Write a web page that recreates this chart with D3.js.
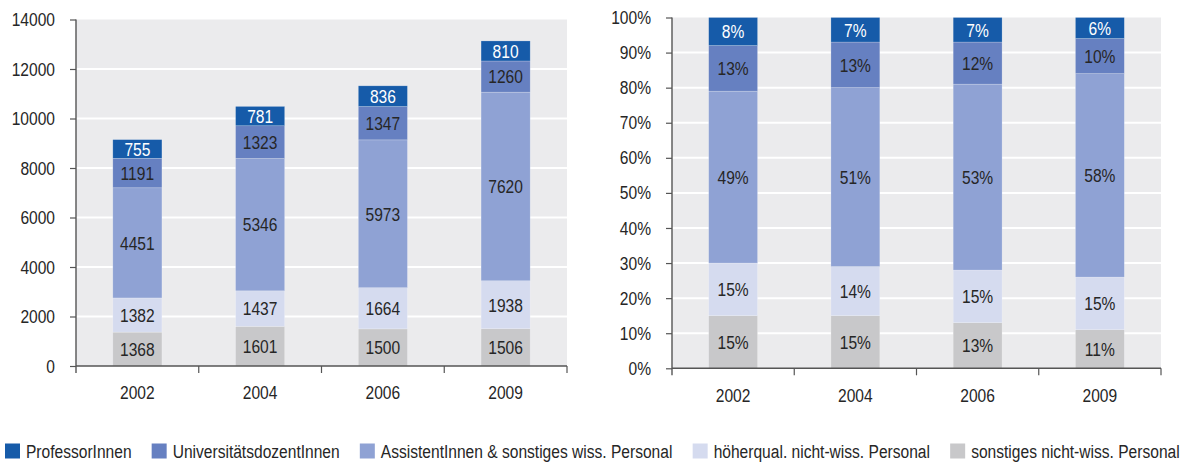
<!DOCTYPE html>
<html>
<head>
<meta charset="utf-8">
<script src="https://cdn.jsdelivr.net/npm/d3@7"></script>
<style>
  html, body { margin: 0; padding: 0; background: #fff; }
  svg { display: block; }
  text { font-family: "Liberation Sans", Arial, sans-serif; }
</style>
</head>
<body>
<svg id="chart" width="1186" height="462"></svg>
<script>
// Personnel at universities by staff category
const years = ["2002", "2004", "2006", "2009"];

const seriesNames = [
  "sonstiges nicht-wiss. Personal",
  "höherqual. nicht-wiss. Personal",
  "AssistentInnen & sonstiges wiss. Personal",
  "UniversitätsdozentInnen",
  "ProfessorInnen"
];

// headcount per category (bottom to top), one value per year
const sonstigesNichtWiss = [1368, 1601, 1500, 1506];
const hoeherqualNichtWiss = [1382, 1437, 1664, 1938];
const assistentInnen = [4451, 5346, 5973, 7620];
const dozentInnen = [1191, 1323, 1347, 1260];
const professorInnen = [755, 781, 836, 810];

// share of each category in percent
const sonstigesShare = [15, 15, 13, 11];
const hoeherqualShare = [15, 14, 15, 15];
const assistentShare = [49, 51, 53, 58];
const dozentShare = [13, 13, 12, 10];
const professorShare = [8, 7, 7, 6];

const countTicks = [0, 2000, 4000, 6000, 8000, 10000, 12000, 14000];
const shareTicks = [0, 10, 20, 30, 40, 50, 60, 70, 80, 90, 100];

const colors = ["#c8c8ca", "#d5dbef", "#8fa2d4", "#6680c1", "#165ba9"];
const labelColors = ["#262626", "#262626", "#262626", "#262626", "#ffffff"];

const svg = d3.select("#chart");
const FONT = 19;
const SX = 0.82; // horizontal squeeze for a condensed look

// squeeze text horizontally while keeping its anchor point in place
function condense(sel) {
  sel.each(function () {
    const t = d3.select(this);
    const x = +t.attr("x") || 0;
    t.attr("x", x / SX).attr("transform", `scale(${SX},1)`);
  });
}

function drawPanel(opts) {
  const { left, right, top, bottom, max, ticks, tickFmt, series } = opts;
  const g = svg.append("g");

  const x = d3.scaleBand().domain(years).range([left, right]).padding(0);
  const y = d3.scaleLinear().domain([0, max]).range([bottom, top]);

  // plot background
  g.append("rect")
    .attr("x", left).attr("y", y(max))
    .attr("width", right - left).attr("height", y(0) - y(max))
    .attr("fill", "#ebebed");

  // horizontal gridlines
  g.append("g").selectAll("line")
    .data(ticks.filter(t => t > 0 && t < max))
    .join("line")
    .attr("x1", left).attr("x2", right)
    .attr("y1", d => y(d)).attr("y2", d => y(d))
    .attr("stroke", "#ffffff").attr("stroke-width", 2);

  // stacked bars
  const rows = years.map((yr, i) => {
    const r = { year: yr };
    series.forEach((s, k) => { r[k] = s[i]; });
    return r;
  });
  const stack = d3.stack().keys(series.map((_, k) => k))(rows);
  const bw = x.bandwidth() * 0.4;

  const layers = g.append("g").selectAll("g")
    .data(stack)
    .join("g")
    .attr("fill", (d, k) => colors[k]);

  layers.selectAll("rect")
    .data(d => d)
    .join("rect")
    .attr("x", d => x(d.data.year) + (x.bandwidth() - bw) / 2)
    .attr("y", d => y(d[1]))
    .attr("width", bw)
    .attr("height", d => y(d[0]) - y(d[1]))
    .attr("stroke", "rgba(255,255,255,0.35)")
    .attr("stroke-width", 0.6);

  layers.selectAll("text")
    .data((d, k) => d.map(p => ({ p, k })))
    .join("text")
    .attr("x", d => x(d.p.data.year) + x.bandwidth() / 2)
    .attr("y", d => (y(d.p[0]) + y(d.p[1])) / 2)
    .attr("dy", "0.36em")
    .attr("text-anchor", "middle")
    .attr("font-size", FONT)
    .attr("fill", d => labelColors[d.k])
    .text(d => tickFmt(d.p[1] - d.p[0]))
    .call(condense);

  // y axis
  const yAxis = d3.axisLeft(y).tickValues(ticks).tickSize(6).tickPadding(15).tickFormat(tickFmt);
  const ya = g.append("g").attr("transform", `translate(${left},0)`).call(yAxis);
  ya.select(".domain").remove();
  ya.selectAll(".tick line").attr("stroke", "#555").attr("stroke-width", 1.2);
  ya.selectAll(".tick text").attr("font-size", FONT).attr("fill", "#262626")
    .attr("font-family", null).call(condense);

  // x axis with category labels centred in each band
  const xAxis = d3.axisBottom(x).tickSize(0).tickPadding(20);
  const xa = g.append("g").attr("transform", `translate(0,${bottom})`).call(xAxis);
  xa.select(".domain").remove();
  xa.selectAll(".tick text").attr("font-size", FONT).attr("fill", "#262626")
    .attr("font-family", null).call(condense);

  // axis lines and band separators
  g.append("line")
    .attr("x1", left).attr("x2", left)
    .attr("y1", y(max)).attr("y2", bottom + 7)
    .attr("stroke", "#555").attr("stroke-width", 1.4);
  g.append("line")
    .attr("x1", left).attr("x2", right)
    .attr("y1", bottom).attr("y2", bottom)
    .attr("stroke", "#555").attr("stroke-width", 1.4);
  const seps = years.slice(1).map(yr => x(yr)).concat([right]);
  g.append("g").selectAll("line")
    .data(seps)
    .join("line")
    .attr("x1", d => d).attr("x2", d => d)
    .attr("y1", bottom).attr("y2", bottom + 7)
    .attr("stroke", "#555").attr("stroke-width", 1.2);
}

// absolute headcounts
drawPanel({
  left: 76, right: 567, top: 19.5, bottom: 366,
  max: 14000, ticks: countTicks,
  tickFmt: d => String(Math.round(d)),
  series: [sonstigesNichtWiss, hoeherqualNichtWiss, assistentInnen, dozentInnen, professorInnen]
});

// percentage shares
drawPanel({
  left: 672, right: 1161, top: 17.5, bottom: 368.3,
  max: 100, ticks: shareTicks,
  tickFmt: d => Math.round(d) + "%",
  series: [sonstigesShare, hoeherqualShare, assistentShare, dozentShare, professorShare]
});

// legend: top category first
const legendOrder = [4, 3, 2, 1, 0];
const legend = svg.append("g");
let lx = 5;
legendOrder.forEach(k => {
  const item = legend.append("g").attr("transform", `translate(${lx},0)`);
  item.append("rect")
    .attr("x", 0).attr("y", 443.5).attr("width", 15).attr("height", 15)
    .attr("fill", colors[k]);
  const t = item.append("text")
    .attr("x", 21).attr("y", 458)
    .attr("font-size", FONT).attr("fill", "#262626")
    .text(seriesNames[k]);
  const w = t.node().getComputedTextLength() * SX;
  t.call(condense);
  lx += 21 + w + 20;
});
</script>
</body>
</html>
